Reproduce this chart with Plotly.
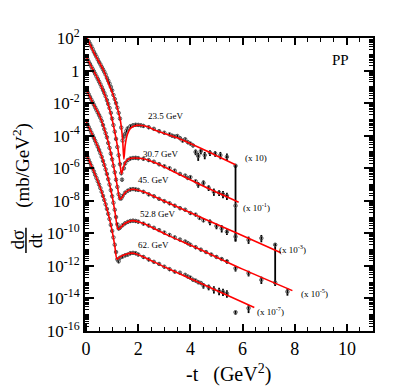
import numpy as np
import plotly.graph_objects as go

# ---- data (t in GeV^2, values as log10 of dsigma/dt, already scaled) ----
energies = ['23.5 GeV', '30.7 GeV', '45. GeV', '52.8 GeV', '62. GeV']
scales = ['(x 10)', '(x 10<sup>-1</sup>)', '(x 10<sup>-3</sup>)', '(x 10<sup>-5</sup>)', '(x 10<sup>-7</sup>)']

# measured points (main part)
t1 = [0.10, 0.15, 0.20, 0.25, 0.30, 0.35, 0.40, 0.45, 0.50, 0.55, 0.60, 0.65, 0.70, 0.75, 0.80, 0.85, 0.90,
      0.95, 1.00, 1.05, 1.10, 1.15, 1.20, 1.25, 1.30, 1.35, 1.40, 1.45, 1.50, 1.55, 1.60, 1.70, 1.80, 1.90,
      2.00, 2.10, 2.20, 2.40, 2.60, 2.80, 3.00, 3.20, 3.30, 3.40, 3.50, 3.60, 3.70, 3.80, 3.90, 4.00, 4.10]
lg1 = [1.80, 1.65, 1.50, 1.33, 1.15, 1.00, 0.85, 0.68, 0.52, 0.38, 0.22, 0.07, -0.08, -0.25, -0.45, -0.62,
       -0.80, -1.00, -1.22, -1.50, -1.75, -2.00, -2.28, -2.60, -2.95, -3.50, -4.30, -4.05, -3.90, -3.70, -3.55,
       -3.42, -3.36, -3.33, -3.34, -3.36, -3.40, -3.48, -3.58, -3.72, -3.82, -3.92, -4.00, -4.05, -4.02, -4.15,
       -4.30, -4.22, -4.40, -4.48, -4.60]

t2 = [0.05, 0.10, 0.15, 0.20, 0.25, 0.30, 0.35, 0.40, 0.45, 0.50, 0.55, 0.60, 0.65, 0.70, 0.75, 0.80, 0.85,
      0.90, 0.95, 1.00, 1.05, 1.10, 1.15, 1.20, 1.25, 1.30, 1.35, 1.38, 1.45, 1.50, 1.60, 1.70, 1.80, 1.90,
      2.00, 2.20, 2.40, 2.60, 2.80, 3.00, 3.20, 3.40, 3.60, 3.80, 3.90, 4.00, 4.20]
lg2 = [0.70, 0.55, 0.40, 0.25, 0.10, -0.05, -0.20, -0.36, -0.52, -0.68, -0.84, -1.02, -1.20, -1.38, -1.58,
       -1.82, -2.05, -2.30, -2.60, -2.95, -3.35, -3.75, -4.20, -4.70, -5.20, -5.75, -6.30, -6.70, -6.00, -5.70,
       -5.50, -5.40, -5.37, -5.36, -5.38, -5.42, -5.50, -5.60, -5.75, -5.88, -6.00, -6.15, -6.35, -6.45, -6.60,
       -6.55, -6.80]

t3 = [0.05, 0.10, 0.15, 0.20, 0.25, 0.30, 0.35, 0.40, 0.45, 0.50, 0.55, 0.60, 0.65, 0.70, 0.75, 0.80, 0.85,
      0.90, 0.95, 1.00, 1.05, 1.10, 1.15, 1.20, 1.25, 1.30, 1.35, 1.40, 1.50, 1.60, 1.70, 1.80, 1.90, 2.00,
      2.20, 2.40, 2.60, 2.80, 3.00, 3.20, 3.40, 3.60, 3.80, 4.00, 4.20, 4.35, 4.50]
lg3 = [-1.30, -1.46, -1.62, -1.78, -1.94, -2.10, -2.26, -2.42, -2.58, -2.74, -2.90, -3.10, -3.35, -3.60, -3.85,
       -4.10, -4.45, -4.75, -5.10, -5.45, -5.85, -6.25, -6.70, -7.15, -7.60, -7.85, -7.85, -7.70, -7.50, -7.38,
       -7.30, -7.28, -7.30, -7.33, -7.45, -7.60, -7.72, -7.88, -8.02, -8.15, -8.30, -8.45, -8.55, -8.75, -8.85,
       -9.05, -9.20]

t4 = [0.05, 0.10, 0.15, 0.20, 0.25, 0.30, 0.35, 0.40, 0.45, 0.50, 0.55, 0.60, 0.65, 0.70, 0.75, 0.80, 0.85,
      0.90, 0.95, 1.00, 1.05, 1.10, 1.15, 1.20, 1.25, 1.30, 1.40, 1.50, 1.60, 1.70, 1.80, 1.90, 2.00, 2.20,
      2.40, 2.60, 2.80, 3.00, 3.20, 3.40, 3.60, 3.80, 3.90, 4.00, 4.20, 4.40, 4.60, 4.80]
lg4 = [-3.30, -3.46, -3.63, -3.80, -3.97, -4.14, -4.31, -4.50, -4.68, -4.88, -5.08, -5.30, -5.55, -5.80, -6.07,
       -6.35, -6.67, -7.00, -7.35, -7.72, -8.12, -8.55, -9.00, -9.45, -9.70, -9.65, -9.50, -9.38, -9.30, -9.24,
       -9.22, -9.24, -9.28, -9.40, -9.52, -9.66, -9.80, -9.95, -10.10, -10.25, -10.38, -10.50, -10.60, -10.70,
       -10.85, -11.00, -11.15, -11.30]

t5 = [0.05, 0.10, 0.15, 0.20, 0.25, 0.30, 0.35, 0.40, 0.45, 0.50, 0.55, 0.60, 0.65, 0.70, 0.75, 0.80, 0.85,
      0.90, 0.95, 1.00, 1.05, 1.10, 1.15, 1.20, 1.25, 1.30, 1.40, 1.50, 1.60, 1.70, 1.80, 1.90, 2.00, 2.20,
      2.40, 2.60, 2.80, 3.00, 3.20, 3.40, 3.60, 3.80, 3.90, 4.00, 4.10, 4.20, 4.30, 4.40]
lg5 = [-5.30, -5.48, -5.66, -5.84, -6.02, -6.20, -6.40, -6.60, -6.80, -7.00, -7.22, -7.45, -7.70, -7.95, -8.22,
       -8.50, -8.80, -9.12, -9.48, -9.85, -10.25, -10.70, -11.15, -11.60, -11.72, -11.50, -11.42, -11.35, -11.30,
       -11.22, -11.20, -11.22, -11.30, -11.45, -11.60, -11.75, -11.88, -12.05, -12.20, -12.35, -12.42, -12.55,
       -12.65, -12.72, -12.85, -12.90, -13.00, -13.05]

# large-t points with visible error bars (log10 value, error up / down in decades)
tt1 = [4.20, 4.30, 4.40, 4.55, 4.75, 4.95, 5.15, 5.40, 5.73]
tl1 = [-5.00, -5.25, -4.95, -5.20, -5.05, -5.10, -5.20, -5.30, -5.85]
tu1 = [0.15, 0.20, 0.15, 0.20, 0.15, 0.15, 0.20, 0.20, 0.10]
td1 = [0.20, 0.30, 0.20, 0.25, 0.20, 0.20, 0.25, 0.25, 0.10]

tt2 = [4.30, 4.50, 4.70, 4.90, 5.10, 5.25, 5.40, 5.73]
tl2 = [-7.00, -6.90, -7.20, -7.45, -7.50, -7.60, -7.70, -8.30]
tu2 = [0.15, 0.15, 0.15, 0.20, 0.15, 0.20, 0.20, 2.50]
td2 = [0.20, 0.20, 0.20, 0.25, 0.20, 0.25, 0.25, 2.20]

tt3 = [4.75, 5.00, 5.20, 5.40, 5.73, 6.23, 6.72, 7.25]
tl3 = [-9.30, -9.55, -9.70, -9.90, -10.20, -10.40, -10.30, -10.70]
tu3 = [0.15, 0.15, 0.20, 0.15, 0.20, 0.20, 0.20, 0.10]
td3 = [0.20, 0.20, 0.25, 0.20, 0.30, 0.25, 0.25, 2.50]

tt4 = [5.00, 5.20, 5.40, 5.73, 6.23, 6.72, 7.25, 7.72]
tl4 = [-11.45, -11.58, -11.72, -12.15, -12.45, -12.86, -13.03, -13.58]
tu4 = [0.10, 0.10, 0.10, 0.15, 0.15, 0.20, 0.15, 0.20]
td4 = [0.10, 0.10, 0.15, 0.20, 0.20, 0.25, 0.20, 0.25]

tt5 = [4.50, 4.70, 4.90, 5.10, 5.25, 5.40, 5.73, 6.23]
tl5 = [-13.20, -13.30, -13.45, -13.55, -13.60, -13.70, -14.85, -14.60]
tu5 = [0.15, 0.15, 0.20, 0.20, 0.20, 0.20, 0.10, 0.20]
td5 = [0.20, 0.20, 0.25, 0.25, 0.25, 0.25, 0.15, 0.30]

# model curves (red)
ft1 = [0.0, 0.30, 0.66, 0.90, 1.04, 1.20, 1.32, 1.40, 1.45, 1.50, 1.58, 1.70, 1.93, 2.30, 2.70, 3.60, 4.50, 5.73]
fl1 = [2.15, 1.10, 0.05, -0.95, -1.50, -2.30, -3.10, -4.20, -5.45, -4.60, -3.95, -3.55, -3.37, -3.42, -3.70,
       -4.20, -4.85, -5.79]
ft2 = [0.0, 0.30, 0.53, 0.79, 1.00, 1.11, 1.22, 1.30, 1.36, 1.42, 1.52, 1.65, 1.85, 2.20, 2.70, 3.60, 4.70, 5.85]
fl2 = [0.87, -0.05, -0.77, -1.79, -3.00, -3.84, -4.80, -5.70, -6.35, -6.00, -5.60, -5.42, -5.37, -5.42, -5.70,
       -6.40, -7.25, -8.09]
ft3 = [0.0, 0.30, 0.53, 0.80, 0.98, 1.12, 1.22, 1.30, 1.38, 1.50, 1.65, 1.81, 2.20, 3.08, 4.35, 5.73, 7.47]
fl3 = [-1.14, -2.10, -2.82, -4.10, -5.28, -6.40, -7.30, -7.90, -7.80, -7.50, -7.33, -7.29, -7.45, -8.08, -8.98,
       -9.95, -11.19]
ft4 = [0.0, 0.30, 0.60, 0.85, 1.00, 1.12, 1.23, 1.35, 1.50, 1.78, 2.20, 3.08, 4.35, 6.00, 7.91]
fl4 = [-3.13, -4.12, -5.28, -6.65, -7.70, -8.80, -9.75, -9.60, -9.38, -9.22, -9.40, -10.08, -10.98, -12.20, -13.52]
ft5 = [0.0, 0.30, 0.60, 0.85, 1.00, 1.10, 1.19, 1.30, 1.50, 1.81, 2.20, 3.08, 4.35, 6.45]
fl5 = [-5.12, -6.20, -7.45, -8.80, -9.85, -10.75, -11.59, -11.45, -11.30, -11.22, -11.45, -12.12, -13.04, -14.55]

# label positions (t, log10)
label_pos = [(3.05, -2.78), (2.86, -5.12), (2.60, -6.71), (2.75, -8.80), (2.60, -10.71)]
scale_pos = [(6.53, -5.36), (6.53, -8.38), (7.90, -10.96), (8.74, -13.66), (7.06, -14.77)]

ytick_exp = [2, 0, -2, -4, -6, -8, -10, -12, -14, -16]
yticks = [10.0 ** e for e in ytick_exp]
ytext = ['1' if e == 0 else '10<sup>%d</sup>' % e for e in ytick_exp]

SERIF = 'Liberation Serif'

fig = go.Figure()

main_sets = [(t1, lg1), (t2, lg2), (t3, lg3), (t4, lg4), (t5, lg5)]
tail_sets = [(tt1, tl1, tu1, td1), (tt2, tl2, tu2, td2), (tt3, tl3, tu3, td3),
             (tt4, tl4, tu4, td4), (tt5, tl5, tu5, td5)]
fit_sets = [(ft1, fl1), (ft2, fl2), (ft3, fl3), (ft4, fl4), (ft5, fl5)]

marker = dict(symbol='circle-open', size=3.5, color='#555555', line=dict(width=1))

for t, lg in main_sets:
    fig.add_trace(go.Scatter(x=t, y=10.0 ** np.array(lg), mode='markers', marker=marker,
                             error_y=dict(type='percent', value=25, color='black', thickness=1.2, width=0),
                             showlegend=False))

for t, lg, up, dn in tail_sets:
    v = 10.0 ** np.array(lg)
    fig.add_trace(go.Scatter(x=t, y=v, mode='markers', marker=marker,
                             error_y=dict(type='data', symmetric=False,
                                          array=v * (10.0 ** np.array(up) - 1),
                                          arrayminus=v * (1 - 10.0 ** -np.array(dn)),
                                          color='black', thickness=1.8, width=0),
                             showlegend=False))

for t, lg in fit_sets:
    fig.add_trace(go.Scatter(x=t, y=10.0 ** np.array(lg), mode='lines',
                             line=dict(color='red', width=1.6, shape='spline', smoothing=0.8),
                             showlegend=False))

for name, (x, y) in zip(energies, label_pos):
    fig.add_annotation(x=x, y=y, text=name, showarrow=False, font=dict(family=SERIF, size=9, color='black'))
for name, (x, y) in zip(scales, scale_pos):
    fig.add_annotation(x=x, y=y, text=name, showarrow=False, font=dict(family=SERIF, size=9, color='black'))

fig.add_annotation(x=9.77, y=0.67, text='PP', showarrow=False, font=dict(family=SERIF, size=15, color='black'))

# axis titles (paper coords, explicitly centred)
title_kw = dict(xref='paper', yref='paper', showarrow=False, xanchor='center', yanchor='middle')
fig.add_annotation(x=0.497, y=-0.145, text='-t   (GeV<sup>2</sup>)',
                   font=dict(family=SERIF, size=20, color='black'), **title_kw)
fig.add_annotation(x=-0.219, y=0.567, text='(mb/GeV<sup>2</sup>)', textangle=-90,
                   font=dict(family=SERIF, size=19, color='black'), **title_kw)
fig.add_annotation(x=-0.234, y=0.311, text='d\u03c3', textangle=-90,
                   font=dict(family=SERIF, size=19, color='black'), **title_kw)
fig.add_annotation(x=-0.172, y=0.311, text='dt', textangle=-90,
                   font=dict(family=SERIF, size=19, color='black'), **title_kw)
fig.add_shape(type='line', xref='paper', yref='paper', x0=-0.205, x1=-0.205, y0=0.266, y1=0.352,
              line=dict(color='black', width=1.5))

fig.update_xaxes(range=[-0.04, 11], tickvals=[0, 2, 4, 6, 8, 10], ticks='inside', ticklen=7, tickwidth=1.5,
                 tickcolor='black', minor=dict(dtick=0.5, ticks='inside', ticklen=4, tickcolor='black', tickwidth=1.2),
                 showline=True, linecolor='black', linewidth=2, mirror='allticks', showgrid=False, zeroline=False,
                 tickfont=dict(family=SERIF, size=18, color='black'))
fig.update_yaxes(type='log', range=[-16, 2], tickvals=yticks, ticktext=ytext, ticks='inside', ticklen=9,
                 tickwidth=1.5, tickcolor='black',
                 minor=dict(dtick='D1', ticks='inside', ticklen=4, tickcolor='black', tickwidth=1),
                 showline=True, linecolor='black', linewidth=2, mirror='allticks', showgrid=False, zeroline=False,
                 tickfont=dict(family=SERIF, size=17, color='black'))

# the page body adds an 8px offset, margins compensate so the plot box sits at 85..373 x 38..331
fig.update_layout(width=415, height=390, margin=dict(l=77, r=50, t=30, b=67, autoexpand=False),
                  plot_bgcolor='white', paper_bgcolor='white', showlegend=False)

fig.write_html("out.html")
